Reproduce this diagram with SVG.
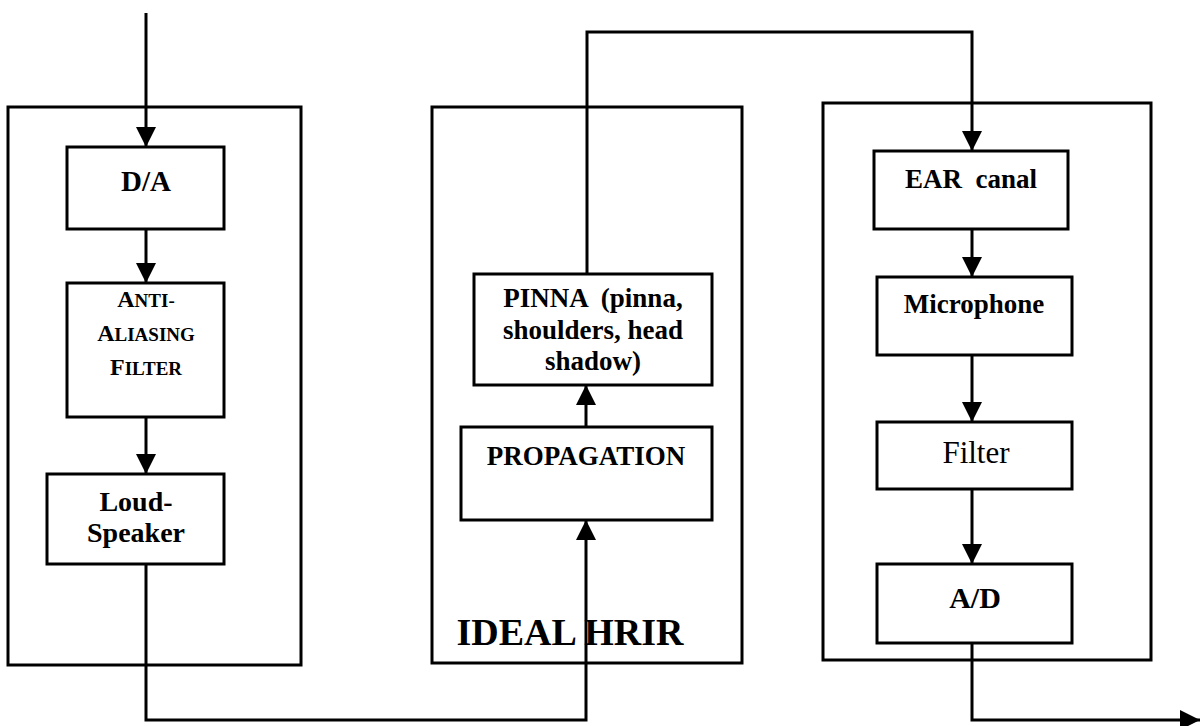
<svg xmlns="http://www.w3.org/2000/svg" width="1202" height="726" viewBox="0 0 1202 726">
<style>
.box{fill:none;stroke:#000;stroke-width:3}
.outer{fill:none;stroke:#000;stroke-width:3}
.ln{fill:none;stroke:#000;stroke-width:3}
text{font-family:"Liberation Serif","Times New Roman",serif;font-weight:bold;fill:#000;text-anchor:middle}
.t{font-size:27px}
.reg{font-weight:normal}
</style>
<defs>
<marker id="ah" viewBox="0 0 20 20" refX="20" refY="10" markerWidth="20" markerHeight="20" markerUnits="userSpaceOnUse" orient="auto">
<path d="M0,0 L20,10 L0,20 Z" fill="#000"/>
</marker>
</defs>
<rect width="1202" height="726" fill="#fff"/>
<g id="group-left"><rect class="outer" x="8" y="107" width="293" height="558"/></g>
<g id="group-hrir"><rect class="outer" x="432" y="107" width="310" height="556"/>
<text x="570" y="645" style="font-size:38px">IDEAL HRIR</text></g>
<g id="group-right"><rect class="outer" x="823" y="103" width="328" height="557"/></g>

<g id="connectors">
<path class="ln" d="M146,13 V147" marker-end="url(#ah)"/>
<path class="ln" d="M146,229 V283" marker-end="url(#ah)"/>
<path class="ln" d="M146,417 V474" marker-end="url(#ah)"/>
<path class="ln" d="M146,564 V720 H586 V520" marker-end="url(#ah)"/>
<path class="ln" d="M586,427 V385" marker-end="url(#ah)"/>
<path class="ln" d="M587,274 V32 H972 V151" marker-end="url(#ah)"/>
<path class="ln" d="M972,229 V277" marker-end="url(#ah)"/>
<path class="ln" d="M972,355 V422" marker-end="url(#ah)"/>
<path class="ln" d="M972,489 V564" marker-end="url(#ah)"/>
<path class="ln" d="M972,643 V720 H1200" marker-end="url(#ah)"/>
</g>

<g id="node-da"><rect class="box" x="67" y="147" width="157" height="82"/>
<text x="146" y="191" style="font-size:29px">D/A</text></g>
<g id="node-aa"><rect class="box" x="67" y="283" width="157" height="134"/>
<text x="146" y="307"><tspan font-size="24">A</tspan><tspan font-size="19">NTI-</tspan></text>
<text x="146" y="341"><tspan font-size="24">A</tspan><tspan font-size="19">LIASING</tspan></text>
<text x="146" y="375"><tspan font-size="24">F</tspan><tspan font-size="19">ILTER</tspan></text></g>
<g id="node-speaker"><rect class="box" x="47" y="474" width="177" height="90"/>
<text class="t" x="136" y="511" style="font-size:28px">Loud-</text>
<text class="t" x="136" y="542" style="font-size:28px">Speaker</text></g>

<g id="node-pinna"><rect class="box" x="474" y="274" width="238" height="111"/>
<text class="t" x="593" y="307" xml:space="preserve">PINNA  (pinna,</text>
<text class="t" x="593" y="339">shoulders, head</text>
<text class="t" x="593" y="370">shadow)</text></g>
<g id="node-prop"><rect class="box" x="461" y="427" width="251" height="93"/>
<text class="t" x="586" y="465">PROPAGATION</text></g>

<g id="node-ear"><rect class="box" x="874" y="151" width="194" height="78"/>
<text class="t" x="971" y="188" xml:space="preserve">EAR  canal</text></g>
<g id="node-mic"><rect class="box" x="877" y="277" width="195" height="78"/>
<text class="t" x="974" y="313">Microphone</text></g>
<g id="node-filter"><rect class="box" x="877" y="422" width="195" height="67"/>
<text class="t reg" x="976" y="463" style="font-size:31px">Filter</text></g>
<g id="node-ad"><rect class="box" x="877" y="564" width="195" height="79"/>
<text x="975" y="608" style="font-size:30px">A/D</text></g>
</svg>
